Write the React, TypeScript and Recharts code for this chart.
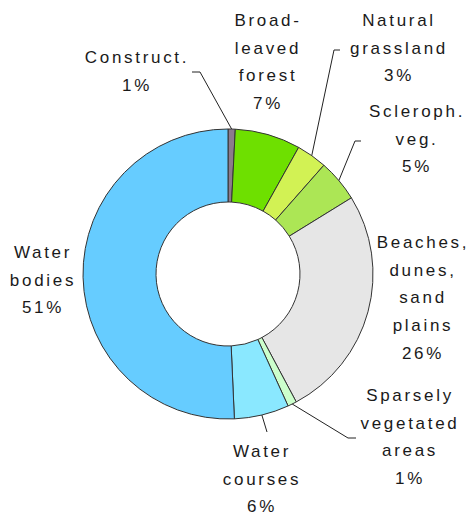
import { PieChart, Pie, Cell } from 'recharts';

const categories = [
  'Construct.',
  'Broad-leaved forest',
  'Natural grassland',
  'Scleroph. veg.',
  'Beaches, dunes, sand plains',
  'Sparsely vegetated areas',
  'Water courses',
  'Water bodies',
];
const shares = [0.8, 7.3, 3.4, 4.7, 26.0, 1.0, 6.1, 50.7];
const percentLabels = ['1%', '7%', '3%', '5%', '26%', '1%', '6%', '51%'];
const labelLines = [
  ['Construct.'],
  ['Broad-', 'leaved', 'forest'],
  ['Natural', 'grassland'],
  ['Scleroph.', 'veg.'],
  ['Beaches,', 'dunes,', 'sand', 'plains'],
  ['Sparsely', 'vegetated', 'areas'],
  ['Water', 'courses'],
  ['Water', 'bodies'],
];

const colors = ['#8c7b8c', '#6ee000', '#d2f254', '#ace655', '#e6e6e6', '#ccffcc', '#8ae8ff', '#66ccff'];

// label anchors (text centre, first line middle) and leader line bends
const labelLayout: { x: number; y: number; leader?: [number, number][] }[] = [
  { x: 137, y: 57, leader: [[200, 72], [192, 72]] },
  { x: 268, y: 20 },
  { x: 399, y: 20, leader: [[334, 50], [340, 50]] },
  { x: 417, y: 111, leader: [[355, 141], [361, 141]] },
  { x: 423, y: 242 },
  { x: 410, y: 395, leader: [[348, 438], [356, 438]] },
  { x: 262, y: 451, leader: [[267, 432]] },
  { x: 43, y: 252 },
];

const LINE_H = 27.7;
const RAD = Math.PI / 180;

const data = categories.map((name, i) => ({ name, value: shares[i], pct: percentLabels[i] }));

function renderLabel(props: any) {
  const { cx, cy, midAngle, outerRadius, index } = props;
  const layout = labelLayout[index];
  const lines = [...labelLines[index], percentLabels[index]];
  let leader = null;
  if (layout.leader) {
    const sx = cx + outerRadius * Math.cos(-midAngle * RAD);
    const sy = cy + outerRadius * Math.sin(-midAngle * RAD);
    const pts = [[sx, sy], ...layout.leader].map((p) => p.join(',')).join(' ');
    leader = <polyline points={pts} fill="none" stroke="#222" strokeWidth={1} />;
  }
  return (
    <g key={`lbl-${index}`}>
      {leader}
      <text
        x={layout.x}
        y={layout.y}
        textAnchor="middle"
        dominantBaseline="central"
        fontFamily="'Liberation Sans', Arial, sans-serif"
        fontSize={17}
        letterSpacing={2.7}
        fill="#1a1a1a"
      >
        {lines.map((t, j) => (
          <tspan key={j} x={layout.x} y={layout.y + j * LINE_H} dominantBaseline="central">
            {t}
          </tspan>
        ))}
      </text>
    </g>
  );
}

export default function App() {
  return (
    <div style={{ position: 'absolute', left: 0, top: 0, background: '#fff' }}>
      <PieChart width={471} height={516} margin={{ top: 0, right: 0, bottom: 0, left: 0 }}>
        <Pie
          data={data}
          dataKey="value"
          nameKey="name"
          cx={228}
          cy={274}
          innerRadius={72}
          outerRadius={145}
          startAngle={90}
          endAngle={-270}
          stroke="#333"
          strokeWidth={1}
          label={renderLabel}
          labelLine={false}
          isAnimationActive={false}
        >
          {data.map((d, i) => (
            <Cell key={d.name} fill={colors[i]} />
          ))}
        </Pie>
      </PieChart>
    </div>
  );
}
